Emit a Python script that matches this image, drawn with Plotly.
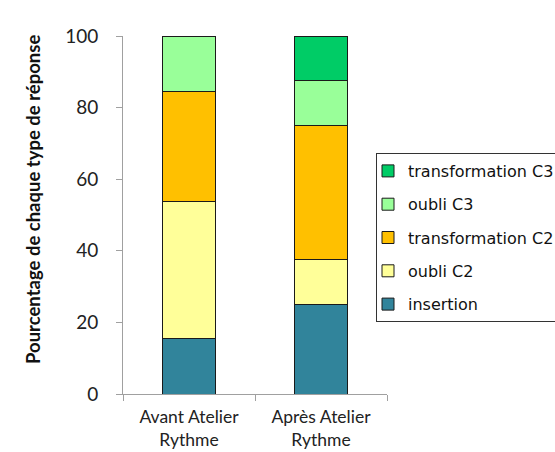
import plotly.graph_objects as go

# Response-type shares (%) per session
categories = ["Avant Atelier<br>Rythme", "Après Atelier<br>Rythme"]
series_names = ["insertion", "oubli C2", "transformation C2", "oubli C3", "transformation C3"]
insertion = [15.4, 25.0]
oubli_c2 = [38.4, 12.5]
transformation_c2 = [30.8, 37.5]
oubli_c3 = [15.4, 12.5]
transformation_c3 = [0.0, 12.5]
series_values = [insertion, oubli_c2, transformation_c2, oubli_c3, transformation_c3]
colors = ["#31849B", "#FFFF99", "#FFC000", "#99FF99", "#00CC66"]
y_ticks = [0, 20, 40, 60, 80, 100]

fig = go.Figure()
n = len(series_names)
for i, (name, vals, col) in enumerate(zip(series_names, series_values, colors)):
    fig.add_trace(go.Bar(
        x=categories, y=vals, name=name, legendgroup=name,
        legendrank=n - i,  # top of the stack listed first
        marker=dict(color=col, line=dict(color="#1A1A1A", width=1)),
        width=0.4,
    ))

body_font = "Lato, Carlito, sans-serif"
plot_w = 555 - 123 - 168
plot_h = 452 - 36 - 58

fig.update_layout(
    barmode="stack",
    width=555, height=452,
    margin=dict(l=123, r=168, t=36, b=58, autoexpand=False),
    paper_bgcolor="white", plot_bgcolor="white",
    showlegend=True,
    legend=dict(
        x=(376 - 123) / plot_w, xanchor="left", y=(394 - 153) / plot_h, yanchor="top",
        traceorder="grouped", tracegroupgap=9.5,
        bordercolor="#333333", borderwidth=1,
        font=dict(family="DejaVu Sans", size=16, color="#111111"),
        itemwidth=30, indentation=-9,
    ),
    xaxis=dict(
        showline=True, linecolor="#A0A0A0", linewidth=1,
        ticks="outside", tickson="boundaries", ticklen=6, tickcolor="#A0A0A0",
        ticklabelstandoff=7,
        tickfont=dict(family=body_font, size=17.5, color="#222222"),
        showgrid=False,
    ),
    yaxis=dict(
        range=[0, 100], tickvals=y_ticks,
        showline=True, linecolor="#A0A0A0", linewidth=1,
        ticks="outside", ticklen=6, tickcolor="#A0A0A0",
        ticklabelstandoff=14,
        tickfont=dict(family=body_font, size=19, color="#222222"),
        showgrid=False, zeroline=False,
    ),
    annotations=[dict(
        text="<b>Pourcentage de chaque type de réponse</b>",
        xref="paper", yref="paper",
        x=-(123 - 33) / plot_w, y=(394 - 200) / plot_h,
        xanchor="center", yanchor="middle", textangle=-90, showarrow=False,
        font=dict(family=body_font, size=18.5, color="#111111"),
    )],
)

fig.write_html("out.html")
